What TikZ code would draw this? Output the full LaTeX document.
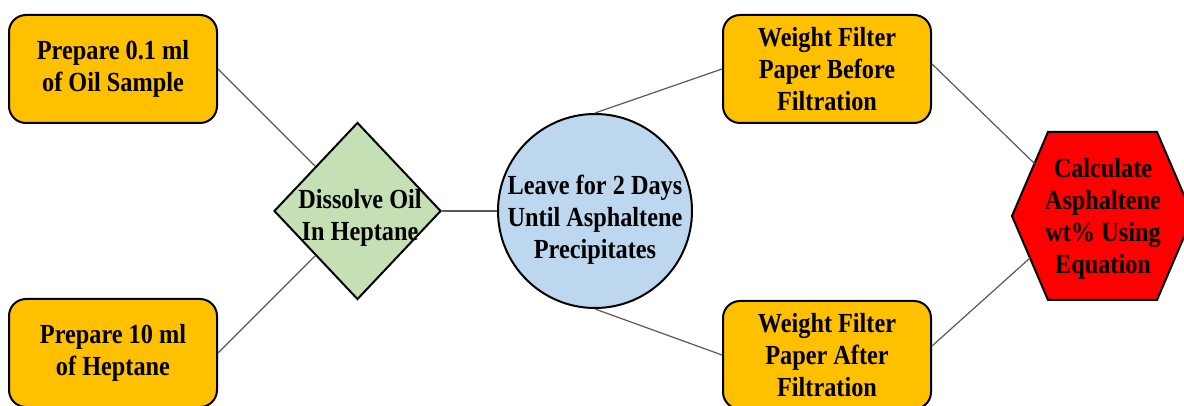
\documentclass[tikz,border=0pt]{standalone}
\usepackage{fontspec}
\setmainfont[FakeStretch=0.88]{Liberation Serif}
\usetikzlibrary{shapes.geometric}

\definecolor{boxorange}{HTML}{FFC000}
\definecolor{mixgreen}{HTML}{C5E0B4}
\definecolor{waitblue}{HTML}{BDD7EE}
\definecolor{linkgray}{HTML}{595959}

\newcommand{\stepfont}{\fontsize{13.8}{15.9}\selectfont\bfseries}

\tikzset{
    stepbox/.style={draw=black, line width=1pt, fill=boxorange, rounded corners=8.5pt,
        minimum width=104pt, minimum height=54pt, align=center, font=\stepfont},
    steptext/.style={align=center, font=\stepfont, inner sep=0pt},
    link/.style={draw=linkgray, line width=0.6pt},
}

\begin{document}
\begin{tikzpicture}[x=0.5pt, y=-0.5pt]
        \clip (0,0) rectangle (1184,406);

        % preparation
        \node[stepbox] (oil) at (113,69) {Prepare 0.1 ml\\of Oil Sample};
        \node[stepbox] (heptane) at (113,353) {Prepare 10 ml\\of Heptane};

        % mixing and settling
        \node[diamond, draw=black, line width=1pt, fill=mixgreen, inner sep=0pt,
            minimum width=83.5pt, minimum height=88.5pt] (dissolve) at (357.5,211) {};
        \node[steptext] (dissolvetxt) at (360,218) {Dissolve Oil\\In Heptane};

        \node[circle, draw=black, line width=1pt, fill=waitblue, inner sep=0pt,
            minimum size=97pt] (leave) at (595,211) {};
        \node[steptext] (leavetxt) at (595,220) {Leave for 2 Days\\Until Asphaltene\\Precipitates};

        % weighing
        \node[stepbox] (before) at (827,69) {Weight Filter\\Paper Before\\Filtration};
        \node[stepbox] (after) at (827,355) {Weight Filter\\Paper After\\Filtration};

        % result
        \coordinate (hexnw) at (1048,132);
        \coordinate (hexne) at (1157,132);
        \coordinate (hexe) at (1193,216);
        \coordinate (hexse) at (1157,300);
        \coordinate (hexsw) at (1048,300);
        \coordinate (hexw) at (1012,216);
        \filldraw[fill=red, draw=black, line width=1pt, line join=miter]
        (hexnw) -- (hexne) -- (hexe) -- (hexse) -- (hexsw) -- (hexw) -- cycle;
        \node[steptext] (result) at (1103,219) {Calculate\\Asphaltene\\wt\% Using\\Equation};
        \coordinate (resultin1) at (1035,164);
        \coordinate (resultin2) at (1030,258);

        \draw[link] (oil.east) -- (dissolve.north west);
        \draw[link] (heptane.east) -- (dissolve.south west);
        \draw[link] (dissolve.east) -- (leave.west);
        \draw[link] (leave.north) -- (before.west);
        \draw[link] (leave.south) -- (after.west);
        \draw[link] ([yshift=2.5pt]before.east) -- (resultin1);
        \draw[link] ([yshift=4.5pt]after.east) -- (resultin2);

    \end{tikzpicture}
\end{document}
